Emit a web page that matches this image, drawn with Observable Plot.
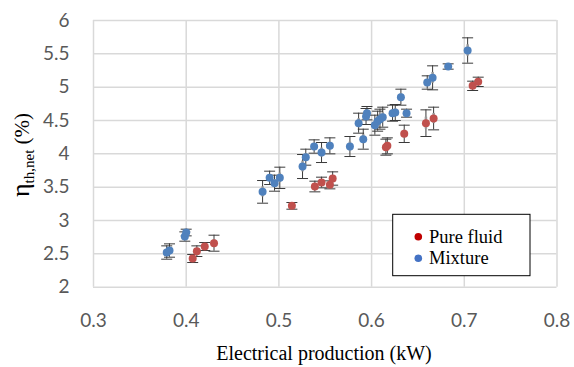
<!DOCTYPE html>
<html><head><meta charset="utf-8">
<script src="https://cdn.jsdelivr.net/npm/d3@7"></script>
<script src="https://cdn.jsdelivr.net/npm/@observablehq/plot@0.6"></script>
<style>body{margin:0;background:#fff}</style>
</head><body><div id="chart"></div>
<script>
// Pure fluid series
const pureX   = [0.407, 0.4115, 0.420, 0.430, 0.514, 0.5388, 0.546, 0.555, 0.558, 0.6154, 0.617, 0.6352, 0.6586, 0.6669, 0.709, 0.715];
const pureY   = [2.43, 2.54, 2.61, 2.66, 3.22, 3.51, 3.57, 3.535, 3.63, 4.10, 4.12, 4.30, 4.46, 4.53, 5.02, 5.08];
const pureErr = [0.06, 0.08, 0.06, 0.12, 0.05, 0.08, 0.08, 0.06, 0.10, 0.12, 0.12, 0.13, 0.20, 0.17, 0.07, 0.07];
// Mixture series
const mixX   = [0.379, 0.382, 0.3985, 0.400, 0.4824, 0.490, 0.4953, 0.501, 0.5255, 0.529, 0.538, 0.546, 0.555, 0.5766, 0.586, 0.591, 0.594, 0.595, 0.6035, 0.6065, 0.609, 0.612, 0.6226, 0.6255, 0.6316, 0.6377, 0.660, 0.6658, 0.6826, 0.7036];
const mixY   = [2.52, 2.55, 2.76, 2.82, 3.43, 3.64, 3.56, 3.64, 3.81, 3.95, 4.11, 4.02, 4.12, 4.11, 4.46, 4.22, 4.56, 4.61, 4.43, 4.49, 4.52, 4.55, 4.61, 4.62, 4.85, 4.61, 5.07, 5.14, 5.31, 5.55];
const mixErr = [0.10, 0.10, 0.07, 0.05, 0.17, 0.10, 0.12, 0.16, 0.18, 0.12, 0.10, 0.15, 0.12, 0.15, 0.15, 0.15, 0.12, 0.10, 0.15, 0.15, 0.15, 0.15, 0.12, 0.12, 0.12, 0.06, 0.10, 0.18, 0.04, 0.19];

const xTicks = [0.3, 0.4, 0.5, 0.6, 0.7, 0.8];
const yTicks = [2, 2.5, 3, 3.5, 4, 4.5, 5, 5.5, 6];
const seriesNames = ["Pure fluid", "Mixture"];
const seriesColors = ["#C0504D", "#4F81BD"];
const legendColors = ["#C00000", "#4472C4"];

const rows = [
  ...pureX.map((x, i) => ({series: seriesNames[0], x, y: pureY[i], e: pureErr[i]})),
  ...mixX.map((x, i) => ({series: seriesNames[1], x, y: mixY[i], e: mixErr[i]}))
];

const cap = {draw(ctx) { ctx.moveTo(-5.5, 0); ctx.lineTo(5.5, 0); }};

const svg = Plot.plot({
  width: 574, height: 367,
  marginLeft: 93, marginRight: 17.5, marginTop: 20, marginBottom: 80.3,
  style: {fontFamily: "Lato", fontSize: "19px", color: "#595959", background: "#fff"},
  x: {domain: [0.3, 0.8], ticks: xTicks, tickSize: 0, tickPadding: 26.5, label: null, tickFormat: d3.format(".1f")},
  y: {domain: [2, 6], ticks: yTicks, tickSize: 0, tickPadding: 24, label: null, tickFormat: d => String(d)},
  color: {domain: seriesNames, range: seriesColors},
  marks: [
    Plot.gridX(xTicks, {stroke: "#d9d9d9", strokeOpacity: 1, strokeWidth: 1.5}),
    Plot.gridY(yTicks, {stroke: "#d9d9d9", strokeOpacity: 1, strokeWidth: 1.5}),
    Plot.ruleX(rows, {x: "x", y1: d => d.y - d.e, y2: d => d.y + d.e, stroke: "#3a3a3a", strokeWidth: 1}),
    Plot.dot(rows, {x: "x", y: d => d.y - d.e, symbol: cap, stroke: "#3a3a3a", strokeWidth: 1, fill: "none"}),
    Plot.dot(rows, {x: "x", y: d => d.y + d.e, symbol: cap, stroke: "#3a3a3a", strokeWidth: 1, fill: "none"}),
    Plot.ruleX(rows, {x: "x", y1: d => d.y - d.e * 0.45, y2: d => d.y + d.e * 0.45, stroke: "#9a9a9a", strokeWidth: 2.5}),
    Plot.dot(rows, {x: "x", y: "y", fill: "series", r: 4, stroke: "none"})
  ]
});

const s = d3.select(svg);
// x axis title
s.append("text").attr("x", 324).attr("y", 360).attr("text-anchor", "middle")
  .attr("font-family", "Liberation Serif").attr("font-size", 20).attr("fill", "#000")
  .text("Electrical production (kW)");
// y axis title
const yt = s.append("text").attr("transform", "translate(29,155) rotate(-90)")
  .attr("text-anchor", "middle").attr("font-family", "Liberation Serif").attr("fill", "#000").attr("font-size", 21);
yt.append("tspan").attr("font-size", 26).text("η");
yt.append("tspan").attr("font-size", 15).attr("dy", 5).text("th,net");
yt.append("tspan").attr("dy", -5).text(" (%)");
// legend
const lg = s.append("g");
lg.append("rect").attr("x", 392.7).attr("y", 214.3).attr("width", 137.3).attr("height", 61.4)
  .attr("fill", "#fff").attr("stroke", "#000").attr("stroke-width", 1);
seriesNames.forEach((name, i) => {
  const cy = 236.7 + i * 21.6;
  lg.append("circle").attr("cx", 418.3).attr("cy", cy).attr("r", 3.8).attr("fill", legendColors[i]);
  lg.append("text").attr("x", 429).attr("y", cy + 6).attr("text-anchor", "start")
    .attr("font-family", "Liberation Serif").attr("font-size", 18.5).attr("fill", "#000").text(name);
});

document.getElementById("chart").appendChild(svg);
</script>
</body></html>
